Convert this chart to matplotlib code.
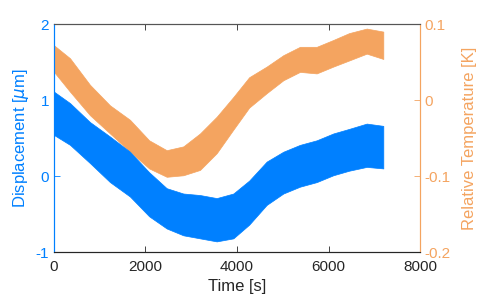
import numpy as np
import matplotlib.pyplot as plt

plt.rcParams['font.family'] = ['Liberation Sans', 'DejaVu Sans']
plt.rcParams['font.size'] = 11

t = [0, 350, 787, 1224, 1661, 2080, 2463, 2827, 3191, 3556, 3920, 4266,
     4649, 5013, 5377, 5742, 6105, 6450, 6835, 7198]

# displacement band [um] (left axis)
disp_hi = [1.11, 0.96, 0.71, 0.52, 0.32, 0.05, -0.16, -0.23, -0.25, -0.29, -0.23, -0.06,
           0.19, 0.32, 0.41, 0.47, 0.56, 0.62, 0.69, 0.66]
disp_lo = [0.54, 0.41, 0.17, -0.08, -0.27, -0.53, -0.69, -0.78, -0.82, -0.86, -0.82, -0.64,
           -0.38, -0.23, -0.14, -0.08, 0.01, 0.07, 0.12, 0.10]

# relative temperature band [K] (right axis)
temp_hi = [0.072, 0.055, 0.020, -0.007, -0.026, -0.053, -0.066, -0.061, -0.044, -0.022, 0.004, 0.030,
           0.044, 0.059, 0.070, 0.070, 0.079, 0.088, 0.094, 0.090]
temp_lo = [0.037, 0.011, -0.020, -0.044, -0.068, -0.090, -0.101, -0.099, -0.092, -0.070, -0.039, -0.010,
           0.009, 0.026, 0.037, 0.035, 0.044, 0.052, 0.061, 0.054]

blue = '#0080ff'
orange = '#f4a460'
dark = '#262626'

fig = plt.figure(figsize=(4.98, 3.07), dpi=100)
ax = fig.add_axes([0.1084, 0.179, 0.735, 0.7428])
ax2 = ax.twinx()

ax2.fill_between(t, temp_lo, temp_hi, color=orange, lw=0.5, ec=orange)
ax.fill_between(t, disp_lo, disp_hi, color=blue, lw=0.5, ec=blue)

# blue band sits on top of the orange one
ax.set_zorder(ax2.get_zorder() + 1)
ax.patch.set_visible(False)

ax.set_xlim(0, 8000)
ax.set_ylim(-1, 2)
ax.set_xticks([0, 2000, 4000, 6000, 8000])
ax.set_yticks([-1, 0, 1, 2])
ax.set_yticklabels(['-1', '0', '1', '2'])
ax2.set_ylim(-0.2, 0.1)
ax2.set_yticks([-0.2, -0.1, 0, 0.1])
ax2.set_yticklabels(['-0.2', '-0.1', '0', '0.1'])

ax.set_xlabel('Time [s]', color=dark, fontsize=12, labelpad=3)
ax.set_ylabel(r'Displacement [$\mu$m]', color=blue, fontsize=12, labelpad=3)
ax2.set_ylabel('Relative Temperature [K]', color=orange, fontsize=12, labelpad=8)

ax.tick_params(axis='x', direction='in', top=True, colors=dark, length=4, width=0.6,
               labelsize=11, pad=6)
ax.tick_params(axis='y', direction='in', colors=blue, length=4, width=0.6, labelsize=11)
ax2.tick_params(axis='y', direction='in', colors=orange, length=4, width=0.6, labelsize=11)

for a in (ax, ax2):
    for s in a.spines.values():
        s.set_linewidth(0.8)
    a.spines['top'].set_color('#555555')
    a.spines['bottom'].set_color(dark)
    a.spines['left'].set_color(blue)
    a.spines['right'].set_color(orange)

fig.savefig('out.png', dpi=100)
